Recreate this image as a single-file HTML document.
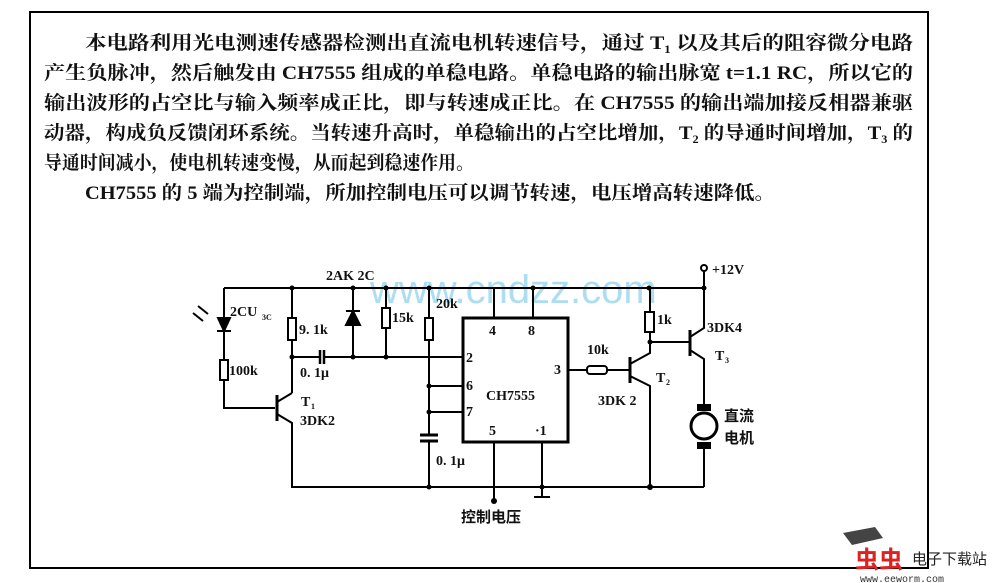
<!DOCTYPE html>
<html><head><meta charset="utf-8"><style>
html,body{margin:0;padding:0;background:#fff;}
svg{display:block;}
.t{font-family:"Liberation Serif","Noto Serif CJK SC","Noto Sans CJK SC",serif;font-size:19px;font-weight:bold;fill:#111;}
.l{font-family:"Liberation Serif","Noto Serif CJK SC",serif;font-size:14px;font-weight:bold;fill:#111;}
.c{font-family:"Noto Sans CJK SC",sans-serif;font-size:15px;font-weight:bold;fill:#111;}
</style></head><body>
<svg width="992" height="583" viewBox="0 0 992 583" xmlns="http://www.w3.org/2000/svg">
<rect x="30" y="12" width="898" height="556" fill="none" stroke="#000" stroke-width="2"/>
<text class="t" x="85" y="49" textLength="828" lengthAdjust="spacingAndGlyphs">本电路利用光电测速传感器检测出直流电机转速信号，通过 T₁ 以及其后的阻容微分电路</text>
<text class="t" x="44" y="79" textLength="869" lengthAdjust="spacingAndGlyphs">产生负脉冲，然后触发由 CH7555 组成的单稳电路。单稳电路的输出脉宽 t=1.1 RC，所以它的</text>
<text class="t" x="44" y="109" textLength="869" lengthAdjust="spacingAndGlyphs">输出波形的占空比与输入频率成正比，即与转速成正比。在 CH7555 的输出端加接反相器兼驱</text>
<text class="t" x="44" y="139" textLength="869" lengthAdjust="spacingAndGlyphs">动器，构成负反馈闭环系统。当转速升高时，单稳输出的占空比增加，T₂ 的导通时间增加，T₃ 的</text>
<text class="t" x="44" y="169" textLength="430" lengthAdjust="spacingAndGlyphs">导通时间减小，使电机转速变慢，从而起到稳速作用。</text>
<text class="t" x="85" y="199" textLength="690" lengthAdjust="spacingAndGlyphs">CH7555 的 5 端为控制端，所加控制电压可以调节转速，电压增高转速降低。</text>

<text x="370" y="303" font-family="Liberation Sans,sans-serif" font-size="40" fill="#9fd8ef" opacity="0.85">www.cndzz.com</text>

<g stroke="#000" stroke-width="2" fill="none">
<!-- top rail -->
<path d="M224 288H704V270"/>
<circle cx="704" cy="268" r="3" fill="#fff"/>
<!-- photodiode branch -->
<path d="M224 288V360M224 380V408H275"/>
<rect x="220" y="360" width="8" height="20" fill="#fff"/>
<path d="M217 331H231M218 318L224 331L230 318Z" fill="#000"/>
<path d="M198 306l10 8M193 313l10 8"/>
<!-- 9.1k -->
<path d="M292 288V318M292 340V393"/>
<rect x="288" y="318" width="8" height="22" fill="#fff"/>
<!-- line to pin2 -->
<path d="M292 357H320M324 357H463"/>
<path d="M320 350V364M324 350V364" stroke-width="2.5"/>
<!-- diode 2AK2C -->
<path d="M353 288V357M346 311H360"/>
<path d="M346 325L353 311L360 325Z" fill="#000"/>
<!-- 15k -->
<path d="M386 288V357"/>
<rect x="382" y="308" width="8" height="20" fill="#fff"/>
<!-- 20k -->
<path d="M429 288V318M429 340V435M429 441V487"/>
<rect x="425" y="318" width="8" height="22" fill="#fff"/>
<path d="M420 435H438M420 441H438" stroke-width="3"/>
<path d="M429 386H463M429 412H463"/>
<!-- chip -->
<rect x="463" y="318" width="105" height="124" stroke-width="3"/>
<path d="M494 288V318M533 288V318M494 442V500M542 442V496M534 497H550"/>
<!-- T1 -->
<path d="M277 395V421" stroke-width="3"/>
<path d="M277 402L292 393M277 414L292 423V487H704"/>
<!-- pin3 out -->
<path d="M568 370H587M607 370H630"/>
<rect x="587" y="366" width="20" height="8" rx="3" fill="#fff"/>
<!-- T2 -->
<path d="M630 357V383" stroke-width="3"/>
<path d="M630 364L650 353V288M630 376L650 386V487"/>
<rect x="645" y="312" width="9" height="20" fill="#fff"/>
<path d="M650 342H690"/>
<!-- T3 -->
<path d="M690 330V356" stroke-width="3"/>
<path d="M690 337L704 328V288M690 350L704 359V408M704 448V487"/>
<circle cx="704" cy="426" r="13" stroke-width="3"/>
<rect x="698" y="405" width="12" height="5" fill="#000"/>
<rect x="698" y="443" width="12" height="5" fill="#000"/>
</g>
<g fill="#000">
<circle cx="292" cy="288" r="2.5"/><circle cx="353" cy="288" r="2.5"/><circle cx="386" cy="288" r="2.5"/><circle cx="429" cy="288" r="2.5"/><circle cx="533" cy="288" r="2.5"/><circle cx="649" cy="288" r="2.5"/><circle cx="704" cy="288" r="2.5"/>
<circle cx="292" cy="357" r="2.5"/><circle cx="353" cy="357" r="2.5"/><circle cx="386" cy="357" r="2.5"/>
<circle cx="429" cy="386" r="2.5"/><circle cx="429" cy="412" r="2.5"/><circle cx="429" cy="487" r="2.5"/><circle cx="542" cy="487" r="2.5"/><circle cx="650" cy="487" r="3"/><circle cx="650" cy="342" r="2.5"/><circle cx="494" cy="501" r="3"/>
</g>
<g class="l">
<text x="326" y="280">2AK 2C</text>
<text x="230" y="316">2CU</text><text x="262" y="320" font-size="8">3C</text>
<text x="299" y="334">9. 1k</text>
<text x="229" y="375">100k</text>
<text x="300" y="377">0. 1μ</text>
<text x="301" y="406">T</text><text x="311" y="409" font-size="8">1</text>
<text x="300" y="425">3DK2</text>
<text x="392" y="322">15k</text>
<text x="436" y="308">20k</text>
<text x="489" y="335">4</text><text x="528" y="335">8</text>
<text x="466" y="362">2</text><text x="466" y="390">6</text><text x="466" y="416">7</text>
<text x="554" y="374">3</text>
<text x="486" y="400">CH7555</text>
<text x="489" y="435">5</text><text x="535" y="435">·1</text>
<text x="436" y="465">0. 1μ</text>
<text x="587" y="354">10k</text>
<text x="598" y="405">3DK 2</text>
<text x="656" y="382">T</text><text x="666" y="385" font-size="8">2</text>
<text x="657" y="324">1k</text>
<text x="707" y="332">3DK4</text>
<text x="715" y="360">T</text><text x="725" y="363" font-size="8">3</text>
<text x="712" y="274">+12V</text>
</g>
<text class="c" x="724" y="421">直流</text>
<text class="c" x="724" y="443">电机</text>
<text class="c" x="461" y="522">控制电压</text>
<path d="M843 533L875 527L883 538L852 545Z" fill="#444"/>
<text x="855" y="568" font-family="Noto Sans CJK SC,sans-serif" font-size="24" font-weight="bold" fill="#d22">虫虫</text>
<text x="912" y="564" font-family="Noto Sans CJK SC,sans-serif" font-size="15" fill="#222">电子下载站</text>
<text x="860" y="582" font-family="Liberation Mono,monospace" font-size="10" fill="#333">www.eeworm.com</text>
</svg>
</body></html>
